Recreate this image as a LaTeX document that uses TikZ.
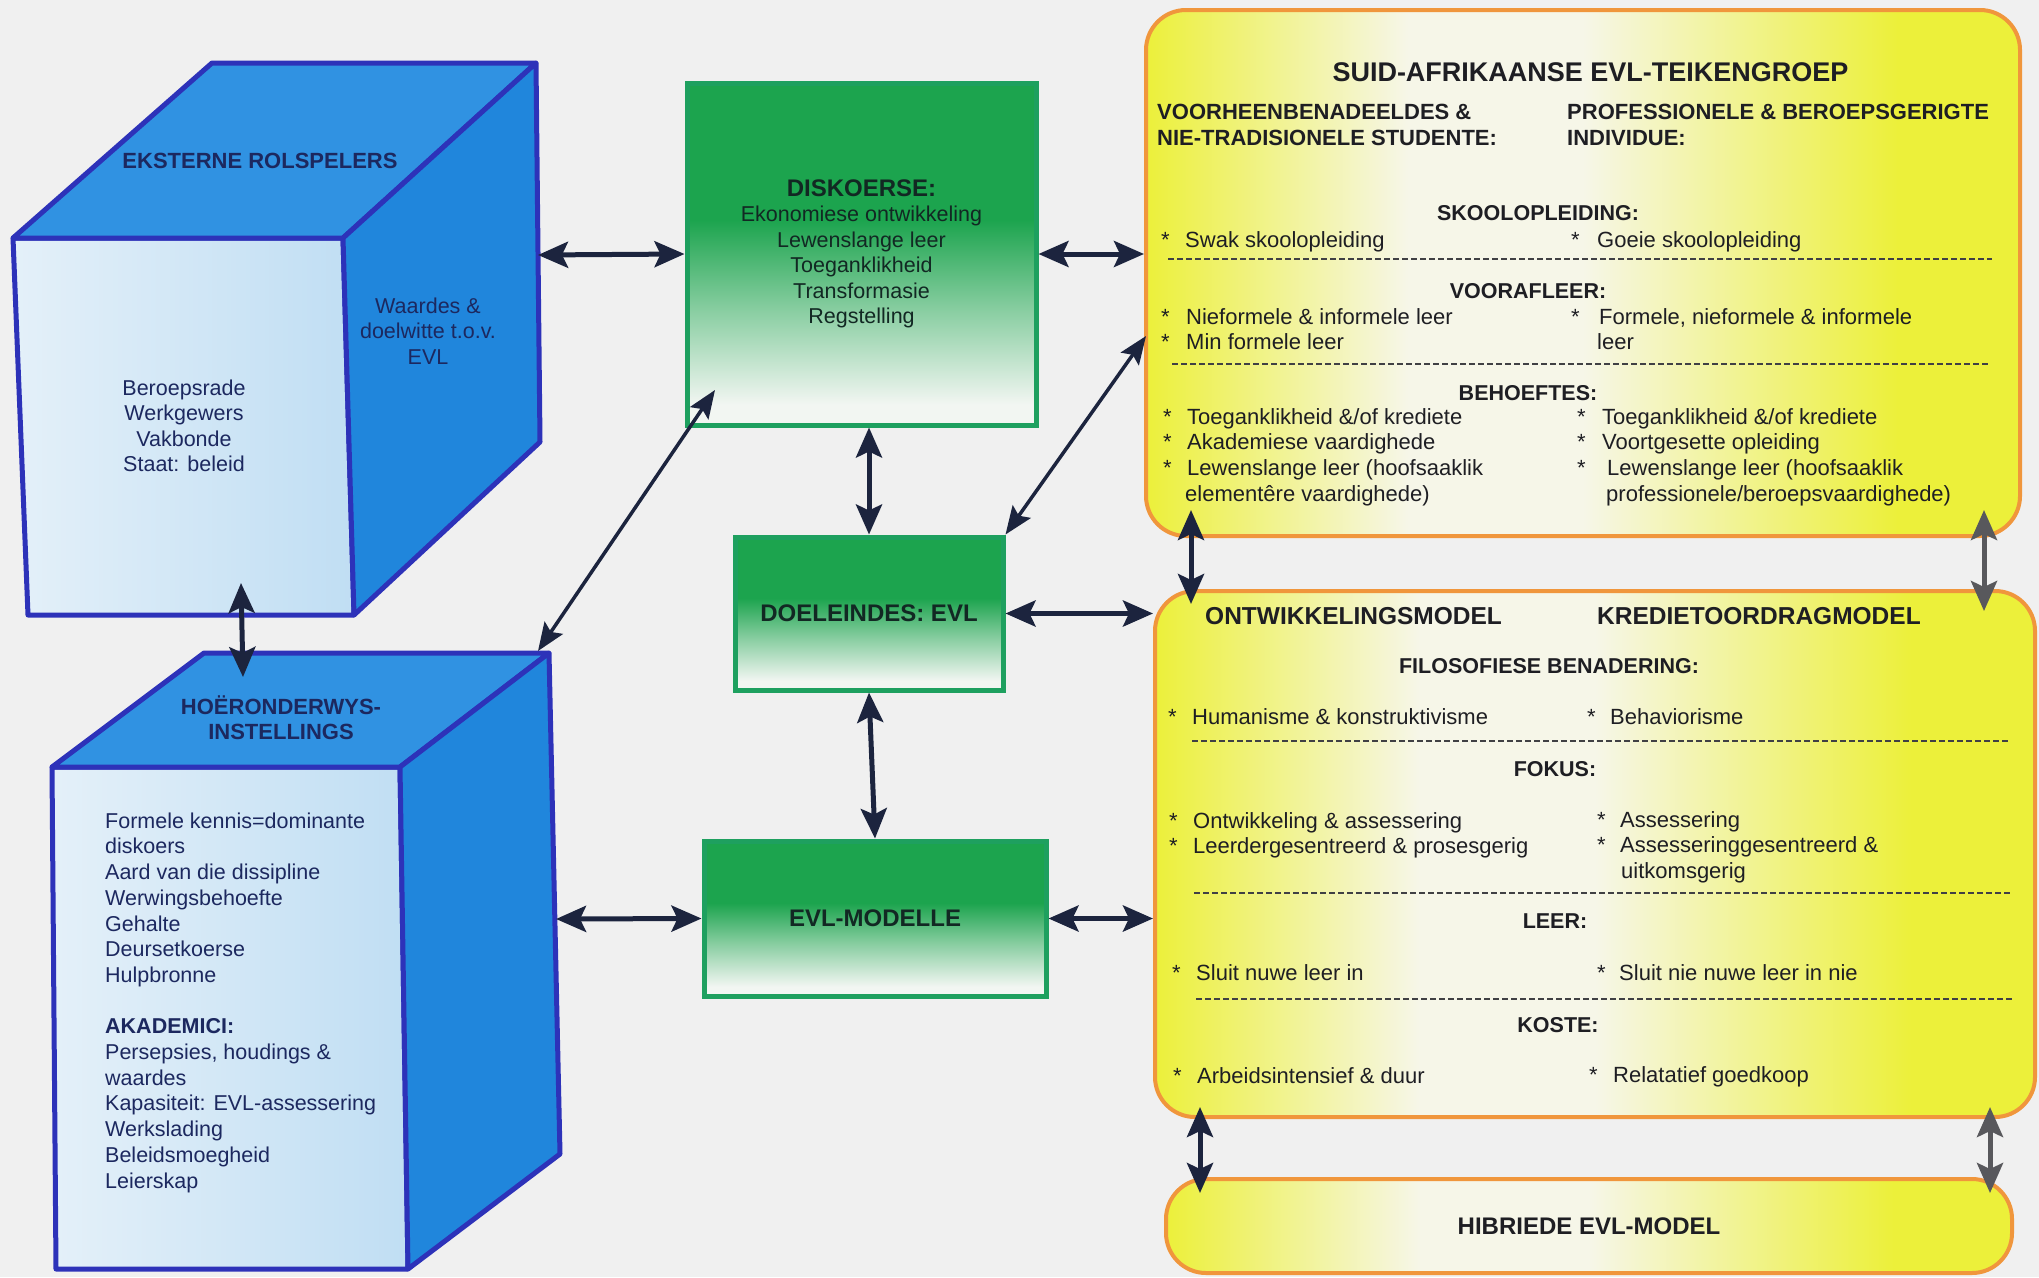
\documentclass[tikz,border=0pt]{standalone}
\usepackage{fontspec}
\setmainfont{Liberation Sans}
\usetikzlibrary{arrows.meta}
\definecolor{bg}{RGB}{240,240,240}
\definecolor{cubeedge}{RGB}{45,50,185}
\definecolor{cubetop}{RGB}{48,146,226}
\definecolor{cuberight}{RGB}{32,134,220}
\definecolor{cubefrontL}{RGB}{228,240,249}
\definecolor{cubefrontR}{RGB}{192,222,243}
\definecolor{cubetext}{RGB}{28,40,95}
\definecolor{gG}{RGB}{28,164,78}
\definecolor{gW}{RGB}{242,246,242}
\colorlet{gM}{gG!50!gW}
\definecolor{gEdge}{RGB}{30,160,95}
\definecolor{gText}{RGB}{18,40,35}
\definecolor{yY}{RGB}{236,240,58}
\definecolor{yW}{RGB}{246,246,232}
\definecolor{yEdge}{RGB}{240,150,60}
\definecolor{yText}{RGB}{30,30,35}
\definecolor{arr}{RGB}{28,36,62}
\definecolor{arrgray}{RGB}{88,88,92}
\pgfdeclarehorizontalshading{yshade}{100bp}{color(0bp)=(yY); color(25bp)=(yY); color(40bp)=(yW); color(50bp)=(yW); color(68bp)=(yY); color(100bp)=(yY)}
\pgfdeclareverticalshading{gshade}{100bp}{color(0bp)=(gW); color(28bp)=(gW); color(42bp)=(gM); color(55bp)=(gG); color(100bp)=(gG)}
\pgfdeclarehorizontalshading{cshade}{100bp}{color(0bp)=(cubefrontL); color(25bp)=(cubefrontL); color(75bp)=(cubefrontR); color(100bp)=(cubefrontR)}
\newcommand\fsz[2]{\fontsize{#1}{#2}\selectfont}
\newcommand\yb[5]{\node[ytxt,anchor=base west] (#1s) at (#2,#4) {*}; \node[ytxt,anchor=base west] (#1) at (#3,#4) {#5};}
\begin{document}
\begin{tikzpicture}[x=1pt,y=-1pt,
  cubeface/.style={draw=cubeedge,line width=5pt,line join=round},
  greenbox/.style={draw=gEdge,line width=5pt,shade,shading=gshade,inner sep=0pt,text=gText,align=center,font=\bfseries\fsz{24}{25.5}},
  yellowbox/.style={draw=yEdge,line width=4pt,shade,shading=yshade,rounded corners=40pt,inner sep=0pt,text=yText,font=\bfseries\fsz{24}{26}},
  conn/.style={color=arr,line width=5pt,<->,>={Stealth[length=30pt,width=26pt,inset=6pt]}},
  thinconn/.style={color=arr,line width=3.5pt,<->,>={Stealth[length=28pt,width=22pt,inset=5pt]}},
  grayconn/.style={conn,color=arrgray},
  sep/.style={draw=yText!85,line width=1.3pt,dash pattern=on 6pt off 3pt},
  ctxt/.style={text=cubetext,inner sep=0pt,font=\fsz{21.5}{25.5}},
  cbold/.style={text=cubetext,inner sep=0pt,font=\bfseries\fsz{22}{24.5}},
  ytxt/.style={text=yText,inner sep=0pt,font=\fsz{22}{26}},
  yhead/.style={text=yText,inner sep=0pt,font=\bfseries\fsz{21.5}{26}},
  ysub/.style={text=yText,inner sep=0pt,font=\bfseries\fsz{22}{26}},
  ybig/.style={text=yText,inner sep=0pt,font=\bfseries\fsz{24.5}{28}},
  ytitle/.style={text=yText,inner sep=0pt,font=\bfseries\fsz{27}{30}}
]
\fill[bg] (0,0) rectangle (2039,1277);
\path[use as bounding box] (0,0) rectangle (2039,1277);

% ---------- top cube ----------
\coordinate (a1) at (13,238);
\coordinate (a2) at (343,238);
\coordinate (a3) at (354,615);
\coordinate (a4) at (28,615);
\coordinate (a5) at (212,63);
\coordinate (a6) at (536,63);
\coordinate (a7) at (540,442);
\path[cubeface,shade,shading=cshade] (a1)--(a2)--(a3)--(a4)--cycle;
\path[cubeface,fill=cubetop] (a1)--(a5)--(a6)--(a2)--cycle;
\path[cubeface,fill=cuberight] (a2)--(a6)--(a7)--(a3)--cycle;
\node[cbold,anchor=base] (ekst) at (260,168) {EKSTERNE ROLSPELERS};
\node[ctxt,align=center,anchor=north] (waar) at (428,295.2) {\strut Waardes \&\\doelwitte t.o.v.\\EVL};
\node[ctxt,align=center,anchor=north] (bero) at (184,377.2) {\strut Beroepsrade\\Werkgewers\\Vakbonde\\Staat: beleid};

% ---------- bottom cube ----------
\coordinate (b1) at (52,767);
\coordinate (b2) at (400,767);
\coordinate (b3) at (408,1269);
\coordinate (b4) at (56,1269);
\coordinate (b5) at (204,653);
\coordinate (b6) at (549,653);
\coordinate (b7) at (560,1154);
\path[cubeface,shade,shading=cshade] (b1)--(b2)--(b3)--(b4)--cycle;
\path[cubeface,fill=cubetop] (b1)--(b5)--(b6)--(b2)--cycle;
\path[cubeface,fill=cuberight] (b2)--(b6)--(b7)--(b3)--cycle;
\node[cbold,align=center,anchor=north] (hoer) at (281,695.9) {\strut HOËRONDERWYS-\\INSTELLINGS};
\node[ctxt,align=left,anchor=north west,font=\fsz{21.5}{25.7}] (form) at (105,810) {\strut Formele kennis=dominante\\diskoers\\Aard van die dissipline\\Werwingsbehoefte\\Gehalte\\Deursetkoerse\\Hulpbronne\\[25.7pt]{\bfseries AKADEMICI:}\\Persepsies, houdings \&\\waardes\\Kapasiteit: EVL-assessering\\Werkslading\\Beleidsmoegheid\\Leierskap};

% ---------- green boxes ----------
\node[greenbox,minimum width=349pt,minimum height=342pt] (disk) at (861.5,254) {DISKOERSE:\\{\mdseries\fsz{21.5}{25.5}Ekonomiese ontwikkeling}\\{\mdseries\fsz{21.5}{25.5}Lewenslange leer}\\{\mdseries\fsz{21.5}{25.5}Toeganklikheid}\\{\mdseries\fsz{21.5}{25.5}Transformasie}\\{\mdseries\fsz{21.5}{25.5}Regstelling}};
\node[greenbox,minimum width=268pt,minimum height=153pt] (doel) at (869,613.5) {DOELEINDES: EVL};
\node[greenbox,minimum width=342pt,minimum height=155pt] (evlm) at (875,918.5) {EVL-MODELLE};

% ---------- yellow boxes ----------
\node[yellowbox,minimum width=874pt,minimum height=526pt] (ytop) at (1583,273) {};
\node[yellowbox,minimum width=880pt,minimum height=526pt] (ymid) at (1595,854) {};
\node[yellowbox,minimum width=846pt,minimum height=94pt] (ybot) at (1589,1226) {HIBRIEDE EVL-MODEL};

% top yellow content
\node[ytitle,anchor=base] (ttl) at (1590.5,81.3) {SUID-AFRIKAANSE EVL-TEIKENGROEP};
\node[ysub,anchor=base west] (sl1) at (1157,119) {VOORHEENBENADEELDES \&};
\node[ysub,anchor=base west] (sl2) at (1157,145) {NIE-TRADISIONELE STUDENTE:};
\node[ysub,anchor=base west] (sr1) at (1567,119) {PROFESSIONELE \& BEROEPSGERIGTE};
\node[ysub,anchor=base west] (sr2) at (1567,145) {INDIVIDUE:};
\node[yhead,anchor=base] (hs) at (1538,220.5) {SKOOLOPLEIDING:};
\yb{i1}{1161}{1185}{247}{Swak skoolopleiding}
\yb{i2}{1571}{1597}{247}{Goeie skoolopleiding}
\draw[sep] (1168,259) -- (1992,259);
\node[yhead,anchor=base] (hv) at (1528,298.6) {VOORAFLEER:};
\yb{i3}{1161}{1186}{324}{Nieformele \& informele leer}
\yb{i4}{1161}{1186}{349}{Min formele leer}
\yb{i5}{1571}{1599}{324}{Formele, nieformele \& informele}
\node[ytxt,anchor=base west] (i5b) at (1597,349) {leer};
\draw[sep] (1172,364) -- (1990,364);
\node[yhead,anchor=base] (hb) at (1528,400.5) {BEHOEFTES:};
\yb{i6}{1163}{1187}{424}{Toeganklikheid \&/of krediete}
\yb{i7}{1163}{1187}{449.5}{Akademiese vaardighede}
\yb{i8}{1163}{1187}{475.5}{Lewenslange leer (hoofsaaklik}
\node[ytxt,anchor=base west] (i8b) at (1185,501.5) {elementêre vaardighede)};
\yb{i9}{1577}{1602}{424}{Toeganklikheid \&/of krediete}
\yb{i10}{1577}{1602}{449.5}{Voortgesette opleiding}
\yb{i11}{1577}{1607}{475.5}{Lewenslange leer (hoofsaaklik}
\node[ytxt,anchor=base west] (i11b) at (1606,501.5) {professionele/beroepsvaardighede)};

% middle yellow content
\node[ybig,anchor=base west] (om) at (1205,624) {ONTWIKKELINGSMODEL};
\node[ybig,anchor=base west] (km) at (1597,624) {KREDIETOORDRAGMODEL};
\node[yhead,anchor=base] (hf) at (1549,673) {FILOSOFIESE BENADERING:};
\yb{j1}{1168}{1192}{724}{Humanisme \& konstruktivisme}
\yb{j2}{1587}{1610}{724}{Behaviorisme}
\draw[sep] (1192,741) -- (2010,741);
\node[yhead,anchor=base] (hk) at (1555,776) {FOKUS:};
\yb{j3}{1169}{1193}{828}{Ontwikkeling \& assessering}
\yb{j4}{1169}{1193}{853}{Leerdergesentreerd \& prosesgerig}
\yb{j5}{1597}{1620}{827}{Assessering}
\yb{j6}{1597}{1620}{852}{Assesseringgesentreerd \&}
\node[ytxt,anchor=base west] (j6b) at (1621,878) {uitkomsgerig};
\draw[sep] (1194,893) -- (2012,893);
\node[yhead,anchor=base] (hl) at (1555,928) {LEER:};
\yb{j7}{1172}{1196}{980}{Sluit nuwe leer in}
\yb{j8}{1597}{1619}{980}{Sluit nie nuwe leer in nie}
\draw[sep] (1196,999) -- (2012,999);
\node[yhead,anchor=base] (hc) at (1558,1032) {KOSTE:};
\yb{j9}{1173}{1197}{1083}{Arbeidsintensief \& duur}
\yb{j10}{1589}{1613}{1082}{Relatatief goedkoop}

% ---------- connector end points ----------
\coordinate (cAr) at (538,255);
\coordinate (cAs) at (241,583);
\coordinate (cBn) at (243,677);
\coordinate (cBr) at (556,919);
\coordinate (cBtr) at (538,651);
\coordinate (dkbl) at (715,390);
\coordinate (ytA) at (1146,336);
\coordinate (v1a) at (1191,510);
\coordinate (v1b) at (1191,604);
\coordinate (v2a) at (1984,510);
\coordinate (v2b) at (1984,611);
\coordinate (v3a) at (1200,1107);
\coordinate (v3b) at (1200,1193);
\coordinate (v4a) at (1990,1107);
\coordinate (v4b) at (1990,1193);

% ---------- connectors ----------
\draw[conn] (cAr) -- (disk.west);
\draw[conn] (disk.east) -- (ytop.west |- disk.east);
\draw[thinconn] (cBtr) -- (dkbl);
\draw[thinconn] (doel.north east) -- (ytA);
\draw[conn] (disk.south -| doel.north) -- (doel.north);
\draw[conn] (doel.east) -- (ymid.west |- doel.east);
\draw[conn] (doel.south) -- (evlm.north);
\draw[conn] (evlm.east) -- (ymid.west |- evlm.east);
\draw[conn] (cBr) -- (evlm.west);
\draw[conn] (cAs) -- (cBn);
\draw[conn] (v1a) -- (v1b);
\draw[grayconn] (v2a) -- (v2b);
\draw[conn] (v3a) -- (v3b);
\draw[grayconn] (v4a) -- (v4b);
\end{tikzpicture}
\end{document}
